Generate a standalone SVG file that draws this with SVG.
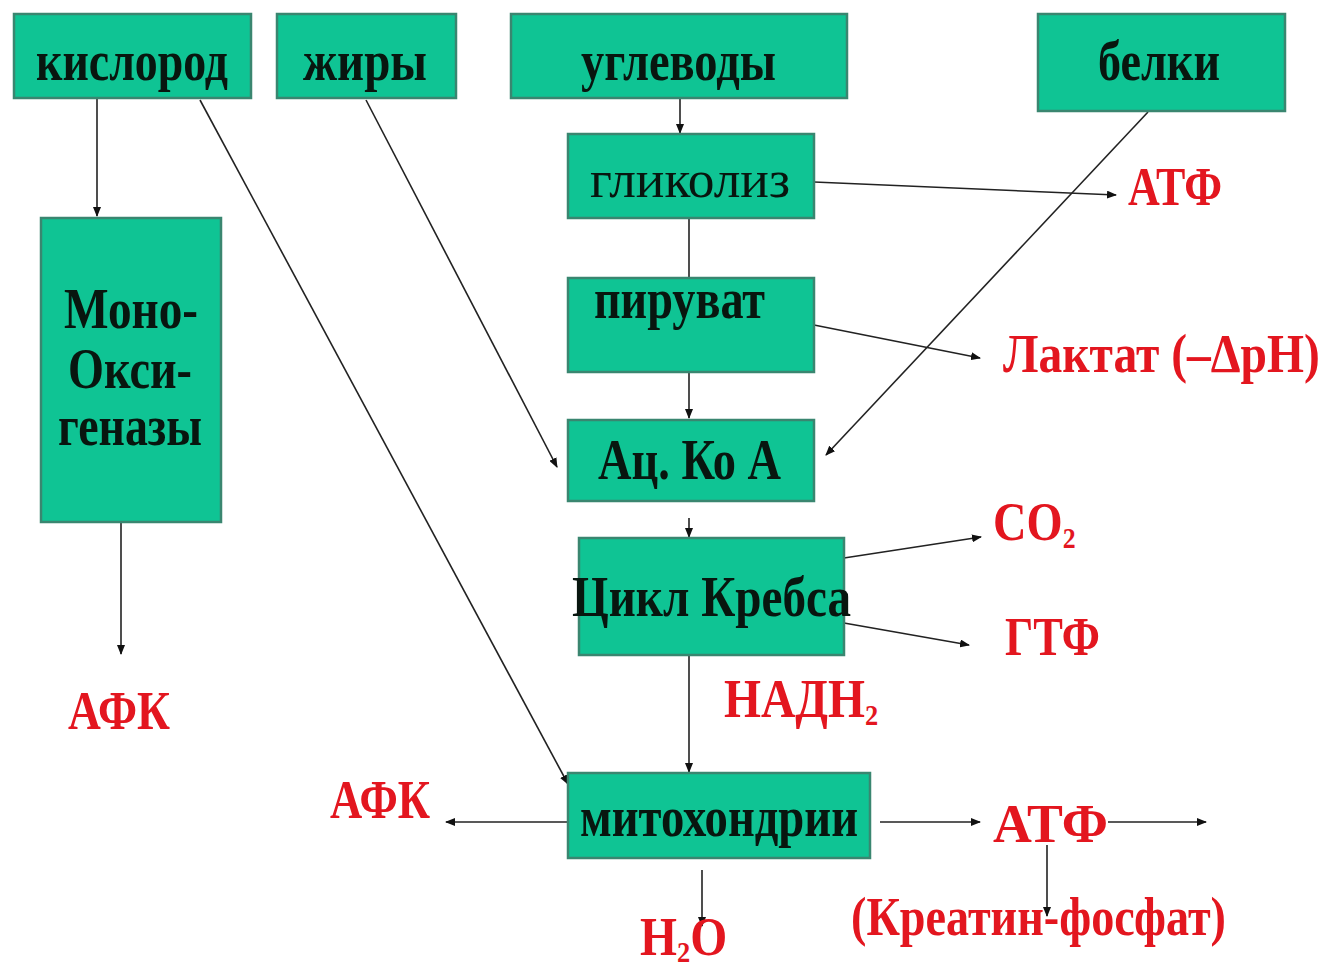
<svg xmlns="http://www.w3.org/2000/svg" width="1324" height="971" viewBox="0 0 1324 971">
<defs>
<style>
.box{fill:#0fc494;stroke:#3a8670;stroke-width:2.5}
.t{font-family:"Liberation Serif","Times New Roman",serif;font-weight:bold;fill:#08160f;font-size:56px}
.tr{font-family:"Liberation Serif","Times New Roman",serif;font-weight:normal;fill:#08160f;font-size:52px}
.r{font-family:"Liberation Serif","Times New Roman",serif;font-weight:bold;fill:#e3161f;font-size:54px}
.sub{font-size:30px}
.c{stroke:#222;stroke-width:1.6;fill:none;marker-end:url(#ah)}
</style>
<marker id="ah" markerWidth="10" markerHeight="8" refX="9" refY="4" orient="auto" markerUnits="userSpaceOnUse">
<path d="M0,0 L10,4 L0,8 Z" fill="#111"/>
</marker>
</defs>
<rect width="1324" height="971" fill="#ffffff"/>

<g id="connectors">
<line class="c" x1="97" y1="98" x2="97" y2="216"/>
<line class="c" x1="200" y1="100" x2="568" y2="784"/>
<line class="c" x1="366" y1="100" x2="557" y2="467"/>
<line class="c" x1="680" y1="98" x2="680" y2="133"/>
<line class="c" x1="689" y1="218" x2="689" y2="300"/>
<line class="c" x1="689" y1="372" x2="689" y2="418"/>
<line class="c" x1="689" y1="518" x2="689" y2="537"/>
<line class="c" x1="689" y1="655" x2="689" y2="772"/>
<line class="c" x1="814" y1="182" x2="1116" y2="195"/>
<line class="c" x1="1148" y1="112" x2="826" y2="455"/>
<line class="c" x1="814" y1="325" x2="980" y2="358"/>
<line class="c" x1="844" y1="558" x2="981" y2="537"/>
<line class="c" x1="844" y1="623" x2="969" y2="645"/>
<line class="c" x1="121" y1="522" x2="121" y2="654"/>
<line class="c" x1="568" y1="822" x2="446" y2="822"/>
<line class="c" x1="880" y1="822" x2="980" y2="822"/>
<line class="c" x1="1108" y1="822" x2="1206" y2="822"/>
<line class="c" x1="1047" y1="845" x2="1047" y2="916"/>
<line class="c" x1="702" y1="870" x2="702" y2="926"/>
</g>

<g id="n-kislorod"><rect class="box" x="14" y="14" width="237" height="84"/><text class="t" x="36" y="80" textLength="192" lengthAdjust="spacingAndGlyphs">кислород</text></g>
<g id="n-zhiry"><rect class="box" x="277" y="14" width="179" height="84"/><text class="t" x="303" y="80" textLength="124" lengthAdjust="spacingAndGlyphs">жиры</text></g>
<g id="n-uglevody"><rect class="box" x="511" y="14" width="336" height="84"/><text class="t" x="581" y="80" textLength="195" lengthAdjust="spacingAndGlyphs">углеводы</text></g>
<g id="n-belki"><rect class="box" x="1038" y="14" width="247" height="97"/><text class="t" x="1098" y="80" textLength="122" lengthAdjust="spacingAndGlyphs">белки</text></g>
<g id="n-glikoliz"><rect class="box" x="568" y="134" width="246" height="84"/><text class="tr" x="590" y="197" textLength="200" lengthAdjust="spacingAndGlyphs">гликолиз</text></g>
<g id="n-piruvat"><rect class="box" x="568" y="278" width="246" height="94"/><text class="t" x="594" y="318" textLength="171" lengthAdjust="spacingAndGlyphs">пируват</text></g>
<g id="n-acкoa"><rect class="box" x="568" y="420" width="246" height="81"/><text class="t" x="598" y="479" textLength="183" lengthAdjust="spacingAndGlyphs">Ац. Ко А</text></g>
<g id="n-krebs"><rect class="box" x="579" y="538" width="265" height="117"/><text class="t" x="572" y="616" textLength="279" lengthAdjust="spacingAndGlyphs">Цикл Кребса</text></g>
<g id="n-mito"><rect class="box" x="568" y="773" width="302" height="85"/><text class="t" x="580" y="836" textLength="278" lengthAdjust="spacingAndGlyphs">митохондрии</text></g>
<g id="n-mono"><rect class="box" x="41" y="218" width="180" height="304"/>
<text class="t" x="64" y="328" textLength="134" lengthAdjust="spacingAndGlyphs">Моно-</text>
<text class="t" x="68" y="388" textLength="124" lengthAdjust="spacingAndGlyphs">Окси-</text>
<text class="t" x="58" y="445" textLength="144" lengthAdjust="spacingAndGlyphs">геназы</text></g>

<g id="labels">
<text class="r" x="1128" y="205" textLength="94" lengthAdjust="spacingAndGlyphs">АТФ</text>
<text class="r" transform="translate(1003,372) scale(0.88,1)">Лактат (–ΔpH)</text>
<text class="r" transform="translate(993,540) scale(0.86,1)">CO<tspan class="sub" dy="8">2</tspan></text>
<text class="r" x="1005" y="655" textLength="95" lengthAdjust="spacingAndGlyphs">ГТФ</text>
<text class="r" transform="translate(724,717) scale(0.88,1)">НАДН<tspan class="sub" dy="8">2</tspan></text>
<text class="r" x="68" y="729" textLength="102" lengthAdjust="spacingAndGlyphs">АФК</text>
<text class="r" x="330" y="818" textLength="100" lengthAdjust="spacingAndGlyphs">АФК</text>
<text class="r" x="993" y="842" textLength="115" lengthAdjust="spacingAndGlyphs">АТФ</text>
<text class="r" x="851" y="935" textLength="375" lengthAdjust="spacingAndGlyphs">(Креатин-фосфат)</text>
<text class="r" transform="translate(640,955) scale(0.88,1)">H<tspan class="sub" dy="7">2</tspan><tspan dy="-7">O</tspan></text>
</g>
</svg>
